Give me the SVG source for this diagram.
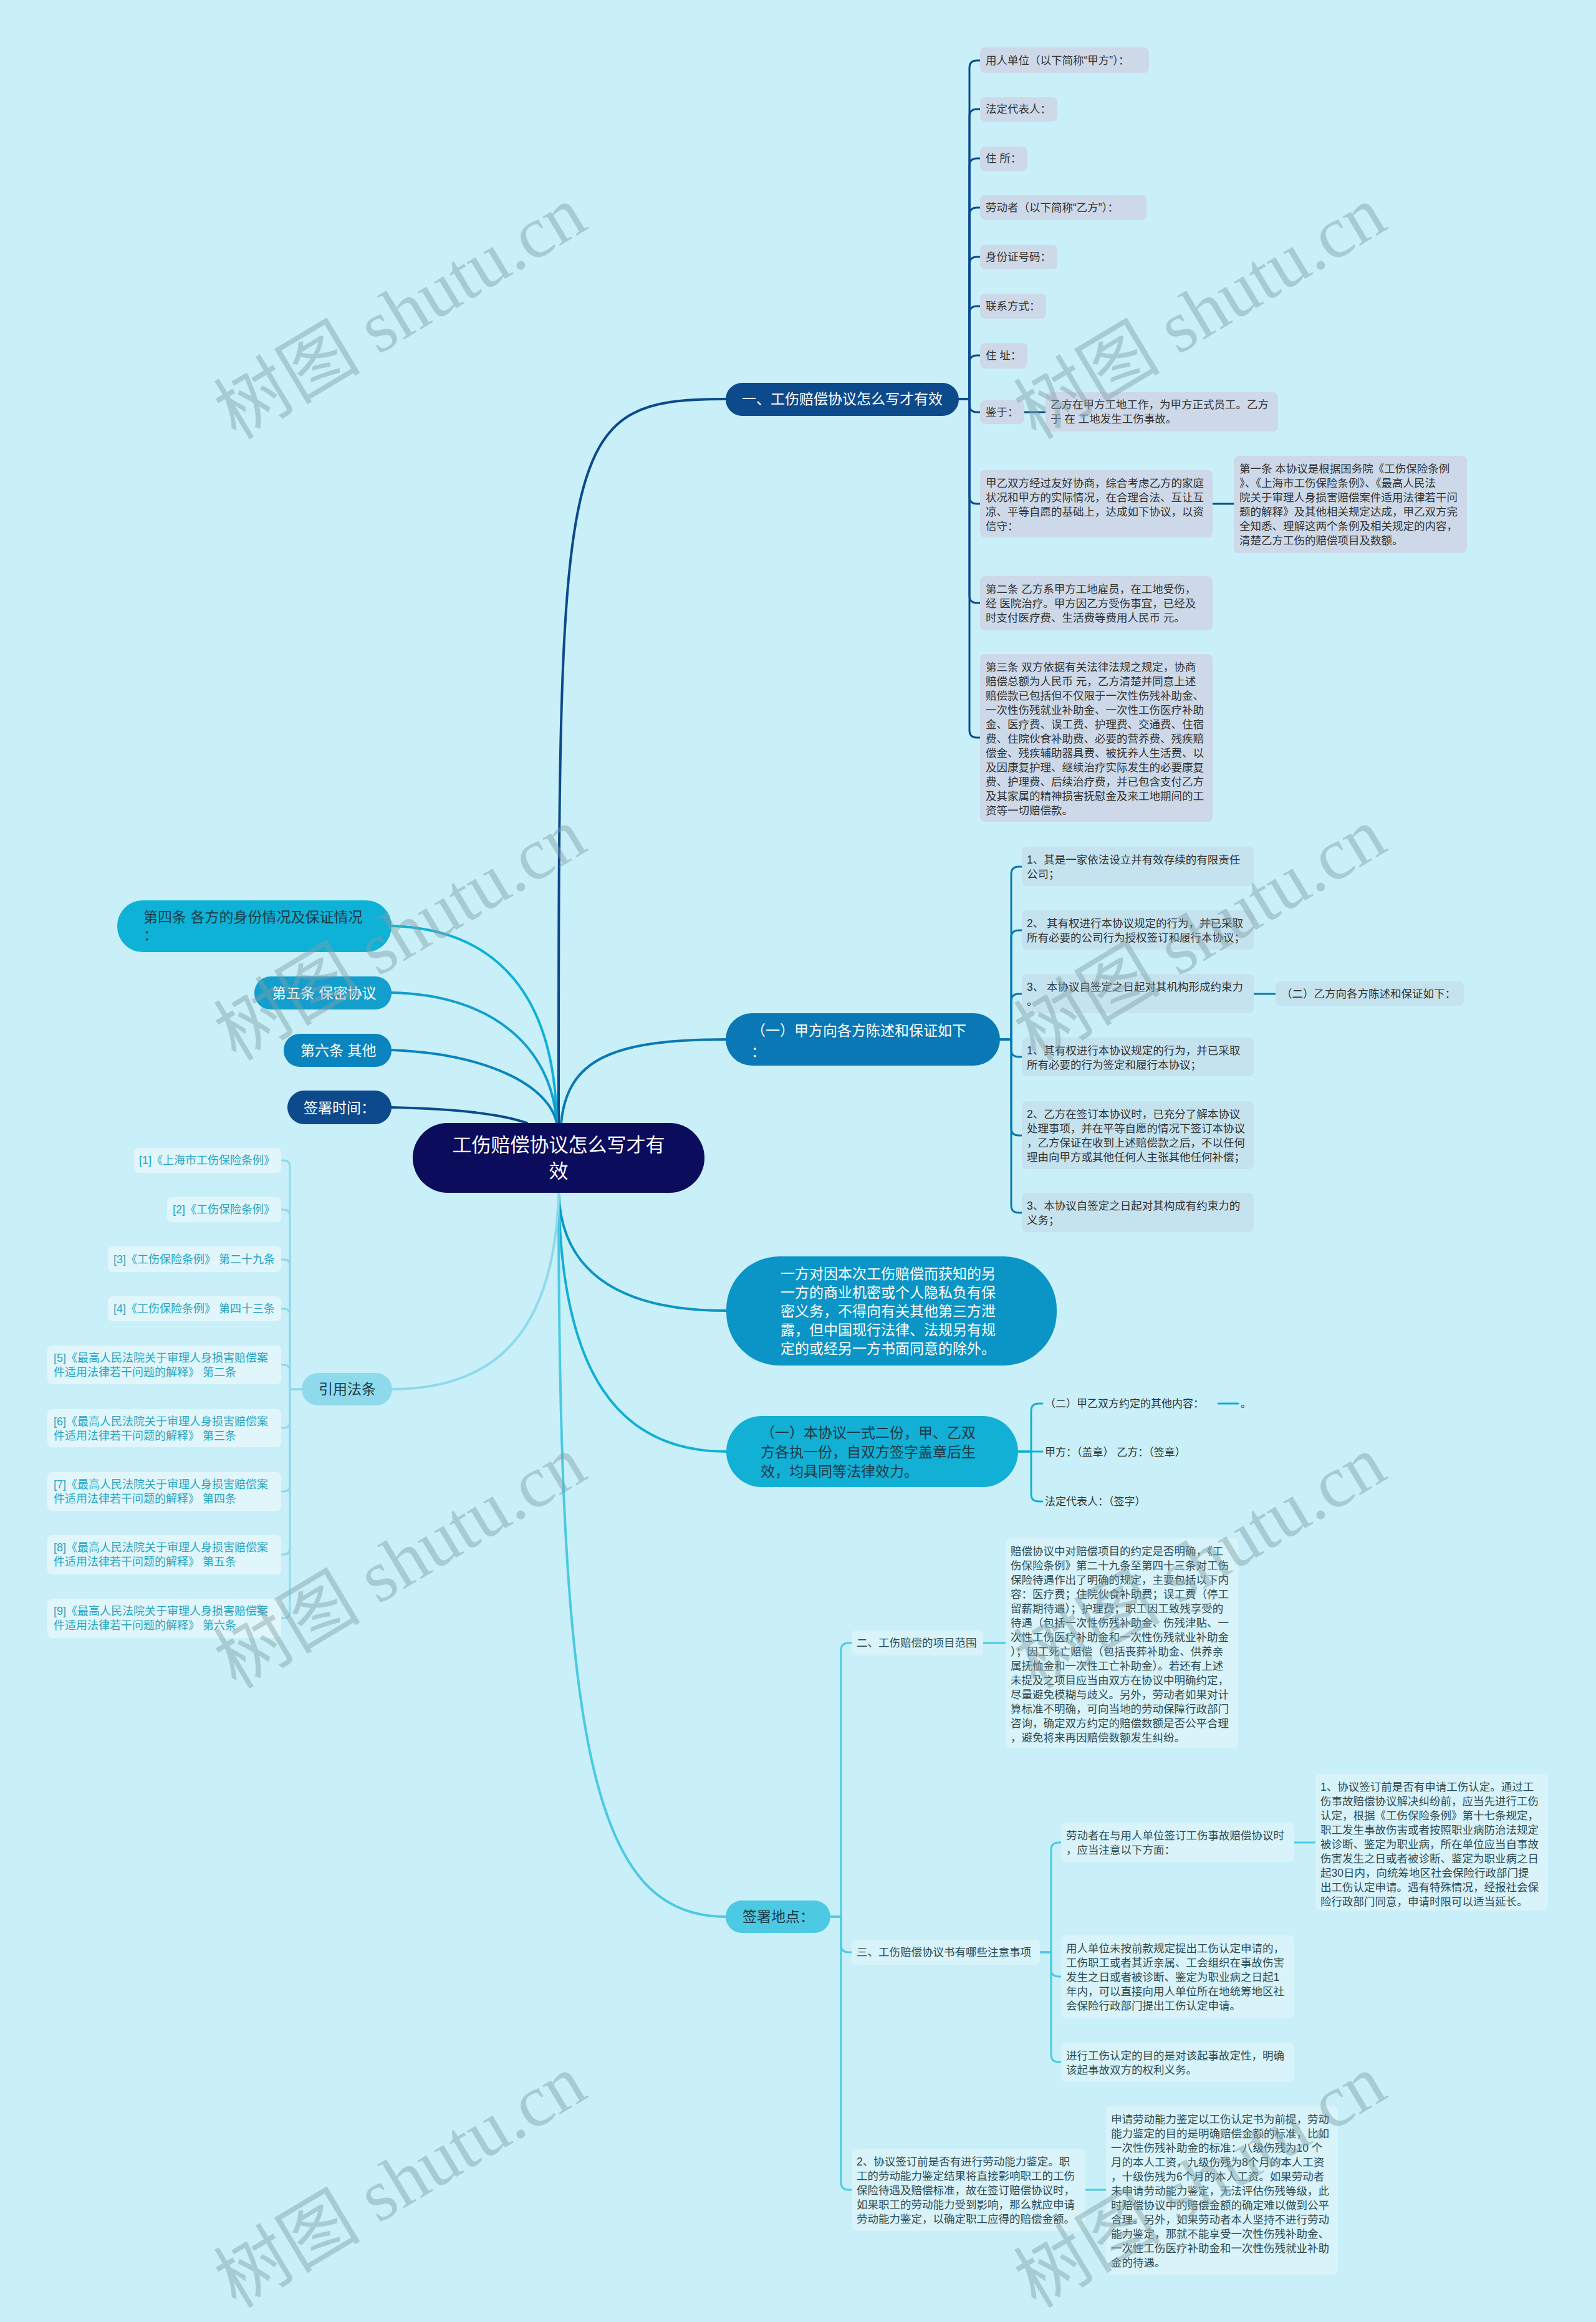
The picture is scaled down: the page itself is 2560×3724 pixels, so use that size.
<svg xmlns="http://www.w3.org/2000/svg" width="2560" height="3724" viewBox="0 0 2560 3724">
<style>
text{font-family:"Liberation Sans","Noto Sans CJK SC",sans-serif;}
.lf{font-size:17.5px;fill:#333333;}
.lf5{font-size:17.5px;fill:#2e4a52;}
.l4{font-size:17px;fill:#333333;}
.ct{font-size:18px;fill:#27a5c2;}
.bt{font-size:23px;}
.w{fill:#ffffff;}
.d{fill:#1c3a47;}
.b1{fill:#CDD9E8;}
.b2{fill:#C5E2EF;}
.b5{fill:#D8F3F9;}
.bc{fill:#E1F6FB;}
.c path{fill:none;stroke-linecap:round;stroke-linejoin:round;}
.m{stroke-width:4;}
.s{stroke-width:3;}
.k1{stroke:#0C4A8C;}
.k2{stroke:#0A78B4;}
.k3{stroke:#0B95C6;}
.k4{stroke:#13B0D5;}
.k5{stroke:#4CC9E3;}
.kc{stroke:#8FD9EC;}
#watermarks text{font-family:"Liberation Serif","Noto Sans CJK SC",serif;font-size:118px;fill:#80A0A8;opacity:0.45;}
</style>
<rect x="0" y="0" width="2560" height="3724" fill="#C9F0F8"/>

<g id="connectors" class="c">
  <path class="m k1" d="M896,1801 C896,700 896,640 1164,640"/>
  <path class="m k2" d="M900,1801 C910,1700 980,1667 1164,1667"/>
  <path class="m k3" d="M896,1913 C900,2030 980,2102 1165,2102"/>
  <path class="m k4" d="M896,1913 C900,2200 990,2328 1165,2328"/>
  <path class="m k5" d="M896,1913 C896,2800 950,3074 1164,3074"/>
  <path class="m" stroke="#0EB2D6" d="M628,1485 C800,1490 890,1600 893,1801"/>
  <path class="m" stroke="#149ECD" d="M628,1592 C790,1595 885,1680 893,1801"/>
  <path class="m" stroke="#0A84BE" d="M628,1684 C780,1690 880,1740 893,1801"/>
  <path class="m k1" d="M628,1776 C720,1778 800,1785 845,1801"/>
  <path class="m kc" d="M896,1913 C890,2130 800,2228 629,2228"/>
  <path class="s k1" d="M1538,640 H1555 V109 Q1555,97 1567,97 H1572"/>
  <path class="s k1" d="M1538,640 H1555 V187 Q1555,175 1567,175 H1572"/>
  <path class="s k1" d="M1538,640 H1555 V266 Q1555,254 1567,254 H1572"/>
  <path class="s k1" d="M1538,640 H1555 V345 Q1555,333 1567,333 H1572"/>
  <path class="s k1" d="M1538,640 H1555 V424 Q1555,412 1567,412 H1572"/>
  <path class="s k1" d="M1538,640 H1555 V503 Q1555,491 1567,491 H1572"/>
  <path class="s k1" d="M1538,640 H1555 V582 Q1555,570 1567,570 H1572"/>
  <path class="s k1" d="M1538,640 H1555 V649 Q1555,661 1567,661 H1572"/>
  <path class="s k1" d="M1538,640 H1555 V796 Q1555,808 1567,808 H1572"/>
  <path class="s k1" d="M1538,640 H1555 V955 Q1555,967 1567,967 H1572"/>
  <path class="s k1" d="M1538,640 H1555 V1171 Q1555,1183 1567,1183 H1572"/>
  <path class="s k1" d="M1643,661 H1677"/>
  <path class="s k1" d="M1945,808 H1979"/>
  <path class="s k2" d="M1604,1667 H1622 V1402 Q1622,1390 1634,1390 H1639"/>
  <path class="s k2" d="M1604,1667 H1622 V1504 Q1622,1492 1634,1492 H1639"/>
  <path class="s k2" d="M1604,1667 H1622 V1606 Q1622,1594 1634,1594 H1639"/>
  <path class="s k2" d="M1604,1667 H1622 V1683 Q1622,1695 1634,1695 H1639"/>
  <path class="s k2" d="M1604,1667 H1622 V1809 Q1622,1821 1634,1821 H1639"/>
  <path class="s k2" d="M1604,1667 H1622 V1933 Q1622,1945 1634,1945 H1639"/>
  <path class="s k2" d="M2011,1594 H2046"/>
  <path class="s k4" d="M1633,2328 H1654 V2263 Q1654,2251 1666,2251 H1672"/>
  <path class="s k4" d="M1633,2328 H1672"/>
  <path class="s k4" d="M1633,2328 H1654 V2396 Q1654,2408 1666,2408 H1672"/>
  <path class="s k4" d="M1954,2251 H1986"/>
  <path class="s k5" d="M1332,3074 H1349 V2647 Q1349,2635 1361,2635 H1366"/>
  <path class="s k5" d="M1332,3074 H1349 V3119 Q1349,3131 1361,3131 H1366"/>
  <path class="s k5" d="M1332,3074 H1349 V3500 Q1349,3512 1361,3512 H1366"/>
  <path class="s k5" d="M1577,2635 H1613"/>
  <path class="s k5" d="M1668,3131 H1686 V2967 Q1686,2955 1698,2955 H1702"/>
  <path class="s k5" d="M1668,3131 H1686 V3158 Q1686,3170 1698,3170 H1702"/>
  <path class="s k5" d="M1668,3131 H1686 V3295 Q1686,3307 1698,3307 H1702"/>
  <path class="s k5" d="M2076,2955 H2110"/>
  <path class="s k5" d="M1741,3512 H1774"/>
  <path class="s kc" d="M484,2228 H465 V1871 Q465,1861 455,1861 H451"/>
  <path class="s kc" d="M484,2228 H465 V1950 Q465,1940 455,1940 H451"/>
  <path class="s kc" d="M484,2228 H465 V2030 Q465,2020 455,2020 H451"/>
  <path class="s kc" d="M484,2228 H465 V2109 Q465,2099 455,2099 H451"/>
  <path class="s kc" d="M484,2228 H465 V2199 Q465,2189 455,2189 H451"/>
  <path class="s kc" d="M484,2228 H465 V2280 Q465,2290 455,2290 H451"/>
  <path class="s kc" d="M484,2228 H465 V2382 Q465,2392 455,2392 H451"/>
  <path class="s kc" d="M484,2228 H465 V2483 Q465,2493 455,2493 H451"/>
  <path class="s kc" d="M484,2228 H465 V2585 Q465,2595 455,2595 H451"/>
</g>

<g id="center">
  <rect x="662" y="1801" width="468" height="112" rx="56" fill="#0C0C5C"/>
  <text x="896" y="1847" font-size="31" fill="#ffffff" text-anchor="middle">工伤赔偿协议怎么写才有</text>
  <text x="896" y="1889" font-size="31" fill="#ffffff" text-anchor="middle">效</text>
</g>

<g id="b1">
  <rect x="1164" y="614" width="374" height="53" rx="26.5" fill="#0C4A8C"/>
  <text class="bt w" x="1351" y="648" text-anchor="middle">一、工伤赔偿协议怎么写才有效</text>
</g>
<g id="b1-1"><rect class="b1" x="1572" y="76" width="271" height="41" rx="8"/><text class="lf" x="1581" y="103">用人单位（以下简称“甲方”）：</text></g>
<g id="b1-2"><rect class="b1" x="1572" y="156" width="124" height="39" rx="8"/><text class="lf" x="1581" y="181">法定代表人：</text></g>
<g id="b1-3"><rect class="b1" x="1572" y="235" width="76" height="39" rx="8"/><text class="lf" x="1581" y="260">住 所：</text></g>
<g id="b1-4"><rect class="b1" x="1572" y="313" width="267" height="40" rx="8"/><text class="lf" x="1581" y="339">劳动者（以下简称“乙方”）：</text></g>
<g id="b1-5"><rect class="b1" x="1572" y="393" width="124" height="39" rx="8"/><text class="lf" x="1581" y="418">身份证号码：</text></g>
<g id="b1-6"><rect class="b1" x="1572" y="471" width="106" height="40" rx="8"/><text class="lf" x="1581" y="497">联系方式：</text></g>
<g id="b1-7"><rect class="b1" x="1572" y="550" width="76" height="41" rx="8"/><text class="lf" x="1581" y="576">住 址：</text></g>
<g id="b1-8"><rect class="b1" x="1572" y="642" width="71" height="38" rx="8"/><text class="lf" x="1581" y="667">鉴于：</text></g>
<g id="b1-8-1"><rect class="b1" x="1677" y="629" width="373" height="63" rx="8"/>
  <text class="lf"><tspan x="1685" y="655">乙方在甲方工地工作，为甲方正式员工。乙方</tspan><tspan x="1685" y="678">于 在 工地发生工伤事故。</tspan></text></g>
<g id="b1-9"><rect class="b1" x="1572" y="754" width="373" height="108" rx="8"/>
  <text class="lf"><tspan x="1581" y="781">甲乙双方经过友好协商，综合考虑乙方的家庭</tspan><tspan x="1581" y="804">状况和甲方的实际情况，在合理合法、互让互</tspan><tspan x="1581" y="827">凉、平等自愿的基础上，达成如下协议，以资</tspan><tspan x="1581" y="850">信守：</tspan></text></g>
<g id="b1-9-1"><rect class="b1" x="1979" y="731" width="374" height="156" rx="8"/>
  <text class="lf"><tspan x="1988" y="758">第一条 本协议是根据国务院《工伤保险条例</tspan><tspan x="1988" y="781">》、《上海市工伤保险条例》、《最高人民法</tspan><tspan x="1988" y="804">院关于审理人身损害赔偿案件适用法律若干问</tspan><tspan x="1988" y="827">题的解释》及其他相关规定达成，甲乙双方完</tspan><tspan x="1988" y="850">全知悉、理解这两个条例及相关规定的内容，</tspan><tspan x="1988" y="873">清楚乙方工伤的赔偿项目及数额。</tspan></text></g>
<g id="b1-10"><rect class="b1" x="1572" y="924" width="373" height="87" rx="8"/>
  <text class="lf"><tspan x="1581" y="951">第二条 乙方系甲方工地雇员，在工地受伤，</tspan><tspan x="1581" y="974">经 医院治疗。甲方因乙方受伤事宜，已经及</tspan><tspan x="1581" y="997">时支付医疗费、生活费等费用人民币 元。</tspan></text></g>
<g id="b1-11"><rect class="b1" x="1572" y="1049" width="373" height="269" rx="8"/>
  <text class="lf"><tspan x="1581" y="1076">第三条 双方依据有关法律法规之规定，协商</tspan><tspan x="1581" y="1099">赔偿总额为人民币 元，乙方清楚并同意上述</tspan><tspan x="1581" y="1122">赔偿款已包括但不仅限于一次性伤残补助金、</tspan><tspan x="1581" y="1145">一次性伤残就业补助金、一次性工伤医疗补助</tspan><tspan x="1581" y="1168">金、医疗费、误工费、护理费、交通费、住宿</tspan><tspan x="1581" y="1191">费、住院伙食补助费、必要的营养费、残疾赔</tspan><tspan x="1581" y="1214">偿金、残疾辅助器具费、被抚养人生活费、以</tspan><tspan x="1581" y="1237">及因康复护理、继续治疗实际发生的必要康复</tspan><tspan x="1581" y="1260">费、护理费、后续治疗费，并已包含支付乙方</tspan><tspan x="1581" y="1283">及其家属的精神损害抚慰金及来工地期间的工</tspan><tspan x="1581" y="1306">资等一切赔偿款。</tspan></text></g>

<g id="b2">
  <rect x="1164" y="1625" width="440" height="84" rx="42" fill="#0A78B4"/>
  <text class="bt w"><tspan x="1205" y="1661">（一）甲方向各方陈述和保证如下</tspan><tspan x="1205" y="1695">：</tspan></text>
</g>
<g id="b2-1"><rect class="b2" x="1639" y="1358" width="372" height="63" rx="8"/>
  <text class="lf"><tspan x="1647" y="1385">1、其是一家依法设立并有效存续的有限责任</tspan><tspan x="1647" y="1408">公司；</tspan></text></g>
<g id="b2-2"><rect class="b2" x="1639" y="1460" width="372" height="63" rx="8"/>
  <text class="lf"><tspan x="1647" y="1487">2、 其有权进行本协议规定的行为，并已采取</tspan><tspan x="1647" y="1510">所有必要的公司行为授权签订和履行本协议；</tspan></text></g>
<g id="b2-3"><rect class="b2" x="1639" y="1562" width="372" height="63" rx="8"/>
  <text class="lf"><tspan x="1647" y="1589">3、 本协议自签定之日起对其机构形成约束力</tspan><tspan x="1647" y="1612">。</tspan></text></g>
<g id="b2-3-1"><rect class="b2" x="2046" y="1574" width="302" height="39" rx="8"/>
  <text class="lf" x="2055" y="1600">（二）乙方向各方陈述和保证如下：</text></g>
<g id="b2-4"><rect class="b2" x="1639" y="1664" width="372" height="62" rx="8"/>
  <text class="lf"><tspan x="1647" y="1691">1、其有权进行本协议规定的行为，并已采取</tspan><tspan x="1647" y="1714">所有必要的行为签定和履行本协议；</tspan></text></g>
<g id="b2-5"><rect class="b2" x="1639" y="1766" width="372" height="109" rx="8"/>
  <text class="lf"><tspan x="1647" y="1793">2、乙方在签订本协议时，已充分了解本协议</tspan><tspan x="1647" y="1816">处理事项，并在平等自愿的情况下签订本协议</tspan><tspan x="1647" y="1839">，乙方保证在收到上述赔偿款之后，不以任何</tspan><tspan x="1647" y="1862">理由向甲方或其他任何人主张其他任何补偿；</tspan></text></g>
<g id="b2-6"><rect class="b2" x="1639" y="1913" width="372" height="63" rx="8"/>
  <text class="lf"><tspan x="1647" y="1940">3、本协议自签定之日起对其构成有约束力的</tspan><tspan x="1647" y="1963">义务；</tspan></text></g>

<g id="b3">
  <rect x="1165" y="2015" width="530" height="175" rx="85" fill="#0B95C6"/>
  <text class="bt w"><tspan x="1252" y="2051">一方对因本次工伤赔偿而获知的另</tspan><tspan x="1252" y="2081">一方的商业机密或个人隐私负有保</tspan><tspan x="1252" y="2111">密义务，不得向有关其他第三方泄</tspan><tspan x="1252" y="2141">露，但中国现行法律、法规另有规</tspan><tspan x="1252" y="2171">定的或经另一方书面同意的除外。</tspan></text>
</g>

<g id="b4">
  <rect x="1165" y="2271" width="468" height="114" rx="57" fill="#13B0D5"/>
  <text class="bt d"><tspan x="1220" y="2306">（一）本协议一式二份，甲、乙双</tspan><tspan x="1220" y="2337">方各执一份，自双方签字盖章后生</tspan><tspan x="1220" y="2368">效，均具同等法律效力。</tspan></text>
</g>
<g id="b4-1"><text class="l4" x="1676" y="2257">（二）甲乙双方约定的其他内容：</text></g>
<g id="b4-1-1"><text class="l4" x="1990" y="2257">。</text></g>
<g id="b4-2"><text class="l4" x="1676" y="2335">甲方：（盖章） 乙方：（签章）</text></g>
<g id="b4-3"><text class="l4" x="1676" y="2414">法定代表人：（签字）</text></g>

<g id="b5">
  <rect x="1164" y="3048" width="168" height="52" rx="26" fill="#4CC9E3"/>
  <text class="bt d" x="1191" y="3082">签署地点：</text>
</g>
<g id="b5-1"><rect class="b5" x="1366" y="2615" width="211" height="40" rx="8"/><text class="lf5" x="1374" y="2641">二、工伤赔偿的项目范围</text></g>
<g id="b5-1-1"><rect class="b5" x="1613" y="2467" width="373" height="337" rx="8"/>
  <text class="lf5"><tspan x="1621" y="2494">赔偿协议中对赔偿项目的约定是否明确，《工</tspan><tspan x="1621" y="2517">伤保险条例》第二十九条至第四十三条对工伤</tspan><tspan x="1621" y="2540">保险待遇作出了明确的规定，主要包括以下内</tspan><tspan x="1621" y="2563">容：医疗费；住院伙食补助费；误工费（停工</tspan><tspan x="1621" y="2586">留薪期待遇）；护理费；职工因工致残享受的</tspan><tspan x="1621" y="2609">待遇（包括一次性伤残补助金、伤残津贴、一</tspan><tspan x="1621" y="2632">次性工伤医疗补助金和一次性伤残就业补助金</tspan><tspan x="1621" y="2655">）；因工死亡赔偿（包括丧葬补助金、供养亲</tspan><tspan x="1621" y="2678">属抚恤金和一次性工亡补助金）。若还有上述</tspan><tspan x="1621" y="2701">未提及之项目应当由双方在协议中明确约定，</tspan><tspan x="1621" y="2724">尽量避免模糊与歧义。另外，劳动者如果对计</tspan><tspan x="1621" y="2747">算标准不明确，可向当地的劳动保障行政部门</tspan><tspan x="1621" y="2770">咨询，确定双方约定的赔偿数额是否公平合理</tspan><tspan x="1621" y="2793">，避免将来再因赔偿数额发生纠纷。</tspan></text></g>
<g id="b5-2"><rect class="b5" x="1366" y="3111" width="302" height="40" rx="8"/><text class="lf5" x="1374" y="3137">三、工伤赔偿协议书有哪些注意事项</text></g>
<g id="b5-2-1"><rect class="b5" x="1702" y="2923" width="374" height="63" rx="8"/>
  <text class="lf5"><tspan x="1710" y="2950">劳动者在与用人单位签订工伤事故赔偿协议时</tspan><tspan x="1710" y="2973">，应当注意以下方面：</tspan></text></g>
<g id="b5-2-1-1"><rect class="b5" x="2110" y="2845" width="373" height="219" rx="8"/>
  <text class="lf5"><tspan x="2118" y="2872">1、协议签订前是否有申请工伤认定。通过工</tspan><tspan x="2118" y="2895">伤事故赔偿协议解决纠纷前，应当先进行工伤</tspan><tspan x="2118" y="2918">认定，根据《工伤保险条例》第十七条规定，</tspan><tspan x="2118" y="2941">职工发生事故伤害或者按照职业病防治法规定</tspan><tspan x="2118" y="2964">被诊断、鉴定为职业病，所在单位应当自事故</tspan><tspan x="2118" y="2987">伤害发生之日或者被诊断、鉴定为职业病之日</tspan><tspan x="2118" y="3010">起30日内，向统筹地区社会保险行政部门提</tspan><tspan x="2118" y="3033">出工伤认定申请。遇有特殊情况，经报社会保</tspan><tspan x="2118" y="3056">险行政部门同意，申请时限可以适当延长。</tspan></text></g>
<g id="b5-2-2"><rect class="b5" x="1702" y="3104" width="374" height="133" rx="8"/>
  <text class="lf5"><tspan x="1710" y="3131">用人单位未按前款规定提出工伤认定申请的，</tspan><tspan x="1710" y="3154">工伤职工或者其近亲属、工会组织在事故伤害</tspan><tspan x="1710" y="3177">发生之日或者被诊断、鉴定为职业病之日起1</tspan><tspan x="1710" y="3200">年内，可以直接向用人单位所在地统筹地区社</tspan><tspan x="1710" y="3223">会保险行政部门提出工伤认定申请。</tspan></text></g>
<g id="b5-2-3"><rect class="b5" x="1702" y="3276" width="374" height="63" rx="8"/>
  <text class="lf5"><tspan x="1710" y="3303">进行工伤认定的目的是对该起事故定性，明确</tspan><tspan x="1710" y="3326">该起事故双方的权利义务。</tspan></text></g>
<g id="b5-3"><rect class="b5" x="1366" y="3446" width="375" height="132" rx="8"/>
  <text class="lf5"><tspan x="1374" y="3473">2、协议签订前是否有进行劳动能力鉴定。职</tspan><tspan x="1374" y="3496">工的劳动能力鉴定结果将直接影响职工的工伤</tspan><tspan x="1374" y="3519">保险待遇及赔偿标准，故在签订赔偿协议时，</tspan><tspan x="1374" y="3542">如果职工的劳动能力受到影响，那么就应申请</tspan><tspan x="1374" y="3565">劳动能力鉴定，以确定职工应得的赔偿金额。</tspan></text></g>
<g id="b5-3-1"><rect class="b5" x="1774" y="3378" width="372" height="270" rx="8"/>
  <text class="lf5"><tspan x="1782" y="3405">申请劳动能力鉴定以工伤认定书为前提，劳动</tspan><tspan x="1782" y="3428">能力鉴定的目的是明确赔偿金额的标准，比如</tspan><tspan x="1782" y="3451">一次性伤残补助金的标准：八级伤残为10 个</tspan><tspan x="1782" y="3474">月的本人工资，九级伤残为8个月的本人工资</tspan><tspan x="1782" y="3497">，十级伤残为6个月的本人工资。如果劳动者</tspan><tspan x="1782" y="3520">未申请劳动能力鉴定，无法评估伤残等级，此</tspan><tspan x="1782" y="3543">时赔偿协议中的赔偿金额的确定难以做到公平</tspan><tspan x="1782" y="3566">合理。另外，如果劳动者本人坚持不进行劳动</tspan><tspan x="1782" y="3589">能力鉴定，那就不能享受一次性伤残补助金、</tspan><tspan x="1782" y="3612">一次性工伤医疗补助金和一次性伤残就业补助</tspan><tspan x="1782" y="3635">金的待遇。</tspan></text></g>

<g id="l1">
  <rect x="188" y="1444" width="440" height="83" rx="41" fill="#0EB2D6"/>
  <text class="bt d"><tspan x="230" y="1479">第四条 各方的身份情况及保证情况</tspan><tspan x="230" y="1508">：</tspan></text>
</g>
<g id="l2">
  <rect x="408" y="1566" width="220" height="53" rx="26" fill="#149ECD"/>
  <text class="bt w" x="436" y="1601">第五条 保密协议</text>
</g>
<g id="l3">
  <rect x="455" y="1658" width="173" height="53" rx="26" fill="#0A84BE"/>
  <text class="bt w" x="482" y="1693">第六条 其他</text>
</g>
<g id="l4">
  <rect x="461" y="1749" width="167" height="54" rx="27" fill="#0C4A8C"/>
  <text class="bt w" x="487" y="1785">签署时间：</text>
</g>
<g id="l5">
  <rect x="484" y="2202" width="145" height="52" rx="26" fill="#8FD9EC"/>
  <text class="bt d" x="511" y="2236">引用法条</text>
</g>
<g id="c1"><rect class="bc" x="215" y="1841" width="236" height="40" rx="8"/><text class="ct" x="223" y="1867">[1]《上海市工伤保险条例》</text></g>
<g id="c2"><rect class="bc" x="268" y="1920" width="183" height="40" rx="8"/><text class="ct" x="277" y="1946">[2]《工伤保险条例》</text></g>
<g id="c3"><rect class="bc" x="173" y="1999" width="278" height="41" rx="8"/><text class="ct" x="182" y="2026">[3]《工伤保险条例》 第二十九条</text></g>
<g id="c4"><rect class="bc" x="173" y="2079" width="278" height="40" rx="8"/><text class="ct" x="182" y="2105">[4]《工伤保险条例》 第四十三条</text></g>
<g id="c5"><rect class="bc" x="76" y="2158" width="375" height="62" rx="8"/>
  <text class="ct"><tspan x="86" y="2184">[5]《最高人民法院关于审理人身损害赔偿案</tspan><tspan x="86" y="2207">件适用法律若干问题的解释》 第二条</tspan></text></g>
<g id="c6"><rect class="bc" x="76" y="2260" width="375" height="61" rx="8"/>
  <text class="ct"><tspan x="86" y="2286">[6]《最高人民法院关于审理人身损害赔偿案</tspan><tspan x="86" y="2309">件适用法律若干问题的解释》 第三条</tspan></text></g>
<g id="c7"><rect class="bc" x="76" y="2361" width="375" height="62" rx="8"/>
  <text class="ct"><tspan x="86" y="2387">[7]《最高人民法院关于审理人身损害赔偿案</tspan><tspan x="86" y="2410">件适用法律若干问题的解释》 第四条</tspan></text></g>
<g id="c8"><rect class="bc" x="76" y="2462" width="375" height="63" rx="8"/>
  <text class="ct"><tspan x="86" y="2488">[8]《最高人民法院关于审理人身损害赔偿案</tspan><tspan x="86" y="2511">件适用法律若干问题的解释》 第五条</tspan></text></g>
<g id="c9"><rect class="bc" x="76" y="2564" width="375" height="63" rx="8"/>
  <text class="ct"><tspan x="86" y="2590">[9]《最高人民法院关于审理人身损害赔偿案</tspan><tspan x="86" y="2613">件适用法律若干问题的解释》 第六条</tspan></text></g>

<g id="watermarks" text-anchor="middle">
  <text x="647" y="540" transform="rotate(-31 647 510)">树图 shutu.cn</text>
  <text x="1930" y="540" transform="rotate(-31 1930 510)">树图 shutu.cn</text>
  <text x="647" y="1537" transform="rotate(-31 647 1507)">树图 shutu.cn</text>
  <text x="1930" y="1537" transform="rotate(-31 1930 1507)">树图 shutu.cn</text>
  <text x="647" y="2544" transform="rotate(-31 647 2514)">树图 shutu.cn</text>
  <text x="1930" y="2544" transform="rotate(-31 1930 2514)">树图 shutu.cn</text>
  <text x="647" y="3537" transform="rotate(-31 647 3507)">树图 shutu.cn</text>
  <text x="1930" y="3537" transform="rotate(-31 1930 3507)">树图 shutu.cn</text>
</g>
</svg>
